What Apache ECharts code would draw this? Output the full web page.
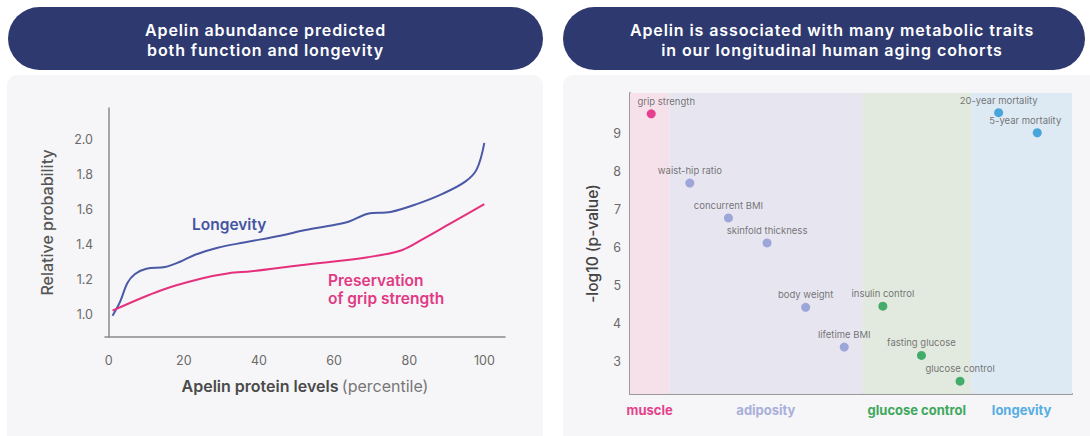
<!DOCTYPE html>
<html>
<head>
<meta charset="utf-8">
<script src="https://cdn.jsdelivr.net/npm/echarts@6/dist/echarts.min.js"></script>
<style>
  html,body{margin:0;padding:0;background:#ffffff;}
  #wrap{position:relative;width:1090px;height:436px;overflow:hidden;font-family:Inter,"Open Sans",sans-serif;}
  .panel{position:absolute;background:#f6f5f7;border-radius:10px;}
  .pill{position:absolute;background:#2e3a6f;border-radius:32px;color:#fff;font-weight:600;font-size:16px;letter-spacing:0.9px;line-height:20px;display:flex;align-items:center;justify-content:center;text-align:center;box-sizing:border-box;padding-top:2px;}
  #chart{position:absolute;left:0;top:0;width:1090px;height:436px;}
</style>
</head>
<body>
<div id="wrap">
  <div class="panel" style="left:7px;top:75px;width:536px;height:380px"></div>
  <div class="panel" style="left:563px;top:75px;width:540px;height:380px"></div>
  <div class="pill" style="left:8px;top:7px;width:535px;height:63px;padding-right:20px">Apelin abundance predicted<br>both function and longevity</div>
  <div class="pill" style="left:563px;top:7px;width:522px;height:63px;padding-left:16px">Apelin is associated with many metabolic traits<br>in our longitudinal human aging cohorts</div>
  <div id="chart"></div>
</div>
<script>
// ---- Left chart data ----
const longX = [1, 3, 5, 7, 10, 15, 19, 23, 29, 36, 46, 52, 60, 64, 69, 75, 82, 89, 95, 98, 100];
const longY = [0.99, 1.07, 1.18, 1.23, 1.26, 1.27, 1.30, 1.34, 1.38, 1.41, 1.45, 1.48, 1.51, 1.53, 1.575, 1.585, 1.63, 1.69, 1.76, 1.83, 1.98];
const gripX = [1, 14, 25, 32, 38, 51, 69, 78, 84, 91, 100];
const gripY = [1.02, 1.137, 1.205, 1.234, 1.245, 1.28, 1.326, 1.366, 1.434, 1.52, 1.63];
const leftXTicks = [0, 20, 40, 60, 80, 100];
const leftYTicks = [1.0, 1.2, 1.4, 1.6, 1.8, 2.0];

// ---- Right chart data ----
const traits = ['grip strength', 'waist-hip ratio', 'concurrent BMI', 'skinfold thickness', 'body weight', 'lifetime BMI', 'insulin control', 'fasting glucose', 'glucose control', '20-year mortality', '5-year mortality'];
const traitIndex = [0, 1, 2, 3, 4, 5, 6, 7, 8, 9, 10];
const traitGroup = [0, 1, 1, 1, 1, 1, 2, 2, 2, 3, 3];
const traitP = [9.53, 7.70, 6.78, 6.12, 4.42, 3.37, 4.45, 3.15, 2.47, 9.56, 9.03];
const groups = ['muscle', 'adiposity', 'glucose control', 'longevity'];
const groupEdges = [-0.55, 0.47, 5.47, 8.29, 10.9];
const rightYTicks = [3, 4, 5, 6, 7, 8, 9];

// ---- styles ----
const dotColors = ['#e2157a', '#8b96d3', '#1d9c4c', '#2394d6'];
const bandColors = ['#f6e1ea', '#e7e5f0', '#e2e9df', '#dde9f3'];
const groupTextColors = ['#e4428c', '#a9afdb', '#3fa85c', '#55aee3'];
const labelOffsets = {0: [15, 0], 10: [-12, 0]};
const FONT = 'Inter, "Open Sans", sans-serif';

const groupCenters = groups.map((g, i) => (groupEdges[i] + groupEdges[i + 1]) / 2);

const chart = echarts.init(document.getElementById('chart'), null, {renderer: 'svg'});

const rich = {};
groups.forEach((g, i) => { rich['g' + i] = {color: groupTextColors[i], fontWeight: 700, fontSize: 13, fontFamily: FONT}; });

const option = {
  backgroundColor: 'transparent',
  textStyle: {fontFamily: FONT},
  animation: false,
  grid: [
    {left: 105, right: 585, top: 108, bottom: 99},
    {left: 630, right: 18, top: 93, bottom: 42}
  ],
  xAxis: [
    {
      gridIndex: 0, type: 'value', min: -1, max: 105.5,
      splitLine: {show: false},
      axisLine: {show: true, lineStyle: {color: '#8a8a8a', width: 1.5}},
      axisTick: {show: false},
      axisLabel: {customValues: leftXTicks, color: '#6a6a6a', fontSize: 12.5, margin: 17},
      name: '{b|Apelin protein levels} {n|(percentile)}',
      nameLocation: 'middle', nameGap: 41,
      nameTextStyle: {rich: {
        b: {fontSize: 16, fontWeight: 600, color: '#4a4a4a', fontFamily: FONT},
        n: {fontSize: 16, fontWeight: 400, color: '#777', fontFamily: FONT}
      }}
    },
    {
      gridIndex: 1, type: 'value', min: groupEdges[0], max: groupEdges[groupEdges.length - 1],
      splitLine: {show: false},
      axisLine: {show: true, onZero: false, lineStyle: {color: '#9a9a9a', width: 2}},
      axisTick: {show: false},
      axisLabel: {
        customValues: groupCenters, margin: 9,
        formatter: v => {
          let k = 0, best = 1e9;
          groupCenters.forEach((c, i) => { if (Math.abs(c - v) < best) { best = Math.abs(c - v); k = i; } });
          return '{g' + k + '|' + groups[k] + '}';
        },
        rich: rich
      }
    }
  ],
  yAxis: [
    {
      gridIndex: 0, type: 'value', min: 0.869, max: 2.18,
      splitLine: {show: false},
      axisLine: {show: true, lineStyle: {color: '#8a8a8a', width: 1.5}},
      axisTick: {show: false},
      axisLabel: {customValues: leftYTicks, color: '#6a6a6a', fontSize: 12.5, margin: 12, formatter: v => v.toFixed(1)},
      name: 'Relative probability', nameLocation: 'middle', nameGap: 50,
      nameTextStyle: {fontSize: 16, color: '#555', fontWeight: 500}
    },
    {
      gridIndex: 1, type: 'value', min: 2.13, max: 10.08,
      splitLine: {show: false},
      axisLine: {show: true, onZero: false, lineStyle: {color: '#9a9a9a', width: 2}},
      axisTick: {show: false},
      axisLabel: {customValues: rightYTicks, color: '#6a6a6a', fontSize: 12.5, margin: 9},
      name: '-log10 (p-value)', nameLocation: 'middle', nameGap: 30,
      nameTextStyle: {fontSize: 15.5, color: '#444', fontWeight: 500}
    }
  ],
  series: [
    {
      type: 'line', xAxisIndex: 0, yAxisIndex: 0, name: 'Longevity',
      data: longX.map((x, i) => [x, longY[i]]),
      smooth: 0.35, showSymbol: false,
      lineStyle: {color: '#4a59a6', width: 2}
    },
    {
      type: 'line', xAxisIndex: 0, yAxisIndex: 0, name: 'Preservation of grip strength',
      data: gripX.map((x, i) => [x, gripY[i]]),
      smooth: 0.35, showSymbol: false,
      lineStyle: {color: '#e5317d', width: 2}
    },
    {
      type: 'scatter', xAxisIndex: 1, yAxisIndex: 1,
      symbolSize: 9,
      data: traits.map((t, i) => ({
        name: t, value: [traitIndex[i], traitP[i]],
        itemStyle: {color: dotColors[traitGroup[i]]},
        label: {offset: labelOffsets[i] || [0, 0]}
      })),
      label: {show: true, position: 'top', distance: 3, formatter: p => p.name, fontSize: 9.5, color: '#555'},
      markArea: {
        silent: true,
        data: groups.map((g, i) => [
          {xAxis: groupEdges[i], itemStyle: {color: bandColors[i]}},
          {xAxis: groupEdges[i + 1]}
        ])
      },
      z: 3
    }
  ],
  graphic: [
    {type: 'text', left: 192, top: 216, style: {text: 'Longevity', fill: '#4454a3', font: '600 15.5px ' + FONT}},
    {type: 'text', left: 328, top: 271, style: {text: 'Preservation\nof grip strength', fill: '#e13a84', font: '600 15.5px ' + FONT, lineHeight: 18}}
  ]
};
chart.setOption(option);
</script>
</body>
</html>
